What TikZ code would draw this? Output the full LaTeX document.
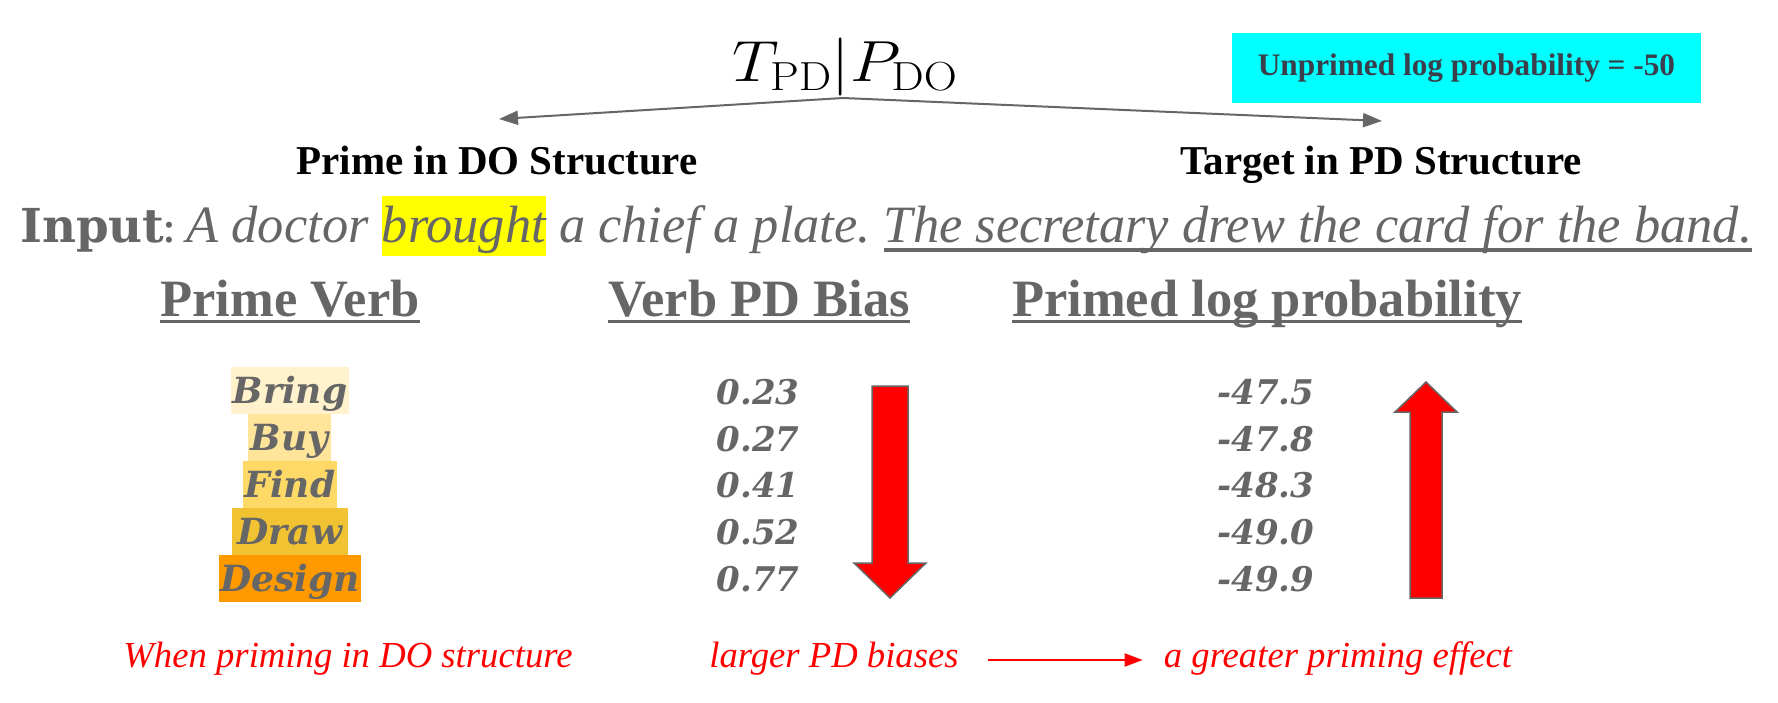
\RequirePackage{fix-cm}
\documentclass[tikz,border=0pt]{standalone}
\usepackage[no-math]{fontspec}
\setmainfont{DejaVu Serif}
\newfontfamily\lib{Liberation Serif}
\usetikzlibrary{arrows.meta}
\frenchspacing
\definecolor{txtgray}{HTML}{666666}
\definecolor{boxtxt}{HTML}{3B3F4C}
\definecolor{hlyellow}{HTML}{FFFF00}
\definecolor{cyanbox}{HTML}{00FFFF}
\definecolor{vA}{HTML}{FFF2CC}
\definecolor{vB}{HTML}{FFE599}
\definecolor{vC}{HTML}{FFD966}
\definecolor{vD}{HTML}{F1C232}
\definecolor{vE}{HTML}{FF9900}
\definecolor{bigred}{HTML}{FF0000}
\newlength\ulw
\newcommand\hul[1]{\settowidth\ulw{#1}\rlap{\rule[-6pt]{\ulw}{3pt}}#1}
\newcommand\iul[1]{\settowidth\ulw{#1}\rlap{\rule[-0.163em]{\ulw}{0.06em}}#1}
\newcommand\hl[1]{{\setlength\fboxsep{0pt}\colorbox{hlyellow}{\rule[-0.245em]{0pt}{1.145em}#1}}}
\tikzset{
  gtxt/.style={text=txtgray, inner sep=0pt, anchor=base},
  hdr/.style={gtxt, font=\lib\bfseries\fontsize{52.5}{60}\selectfont},
  struct/.style={inner sep=0pt, anchor=base, text=black, font=\lib\bfseries\fontsize{41}{48}\selectfont},
  verb/.style={gtxt, inner xsep=0pt, inner ysep=0pt, text height=36pt, text depth=11pt,
    font=\fontsize{36}{40}\selectfont\bfseries\itshape},
  num/.style={gtxt, font=\fontsize{34}{40}\selectfont\bfseries\itshape},
  redtxt/.style={inner sep=0pt, anchor=base, text=bigred, font=\lib\itshape\fontsize{36.7}{44}\selectfont},
  fork/.style={draw=txtgray, line width=2pt, -{Triangle[length=19pt,width=14pt]}},
  blockarrow/.style={fill=bigred, draw=txtgray, line width=1.5pt, line join=miter},
}
\begin{document}
\begin{tikzpicture}[x=1pt,y=-1pt]
\useasboundingbox (0,0) rectangle (1778,703);
% formula
\node[inner sep=0pt, anchor=base] (formula) at (845,82) {\fontsize{58}{60}\selectfont\scalebox{1.13}[1]{$T_{\mathrm{PD}}|P_{\mathrm{DO}}$}};
\coordinate (forkpt) at (843,98);
\coordinate (ltip) at (499,119);
\coordinate (rtip) at (1382,121);
\draw[fork] (forkpt) -- (ltip);
\draw[fork] (forkpt) -- (rtip);
% cyan box
\node[fill=cyanbox, minimum width=469pt, minimum height=70pt, inner sep=0pt, text=boxtxt,
  font=\lib\bfseries\fontsize{31.3}{36}\selectfont] (unprimed) at (1466.5,68) {Unprimed log probability = -50};
% structures
\node[struct] (primeDO) at (497,175) {Prime in DO Structure};
\node[struct] (targetPD) at (1381,175) {Target in PD Structure};
% input line
\node[gtxt, anchor=base west] (input) at (20,243) {\resizebox{1732pt}{!}{\fontsize{43.7}{50}\selectfont\textbf{Input}\kern-3pt:\hspace{9pt}{\lib\fontsize{49}{56}\selectfont\itshape A doctor \hl{brought} a chief a plate. \iul{The secretary drew the card for the band.}}}};
% headers
\node[hdr] (hverb) at (290,317) {\hul{Prime Verb}};
\node[hdr] (hbias) at (759,317) {\hul{Verb PD Bias}};
\node[hdr] (hlogp) at (1267,317) {\hul{Primed log probability}};
% verbs
\node[verb, fill=vA, minimum width=118pt] (bring) at (290,403) {Bring};
\node[verb, fill=vB, minimum width=83pt] (buy) at (289.5,450) {Buy};
\node[verb, fill=vC, minimum width=94pt] (find) at (290,497) {Find};
\node[verb, fill=vD, minimum width=116pt] (draw) at (290,544) {Draw};
\node[verb, fill=vE, minimum width=142pt] (design) at (290,591) {Design};
% biases
\node[num] (b1) at (758,404) {0.23};
\node[num] (b2) at (758,451) {0.27};
\node[num] (b3) at (758,497) {0.41};
\node[num] (b4) at (758,544) {0.52};
\node[num] (b5) at (758,591) {0.77};
% log probs
\node[num] (p1) at (1266,404) {-47.5};
\node[num] (p2) at (1266,451) {-47.8};
\node[num] (p3) at (1266,497) {-48.3};
\node[num] (p4) at (1266,544) {-49.0};
\node[num] (p5) at (1266,591) {-49.9};
% block arrows
\draw[blockarrow] (872,386) -- (908,386) -- (908,563) -- (926,563) -- (890,598) -- (854,563) -- (872,563) -- cycle;
\draw[blockarrow] (1410,598) -- (1442,598) -- (1442,412) -- (1457,412) -- (1426,382) -- (1395,412) -- (1410,412) -- cycle;
% bottom
\node[redtxt] (when) at (348,667) {When priming in DO structure};
\node[redtxt] (larger) at (834,667) {larger PD biases};
\node[redtxt] (greater) at (1338,667) {a greater priming effect};
\draw[draw=bigred, line width=2pt, -{Triangle[length=18pt,width=13pt]}]
  ([xshift=29pt,yshift=7pt]larger.base east) -- ([xshift=-21pt,yshift=7pt]greater.base west);
\end{tikzpicture}
\end{document}
